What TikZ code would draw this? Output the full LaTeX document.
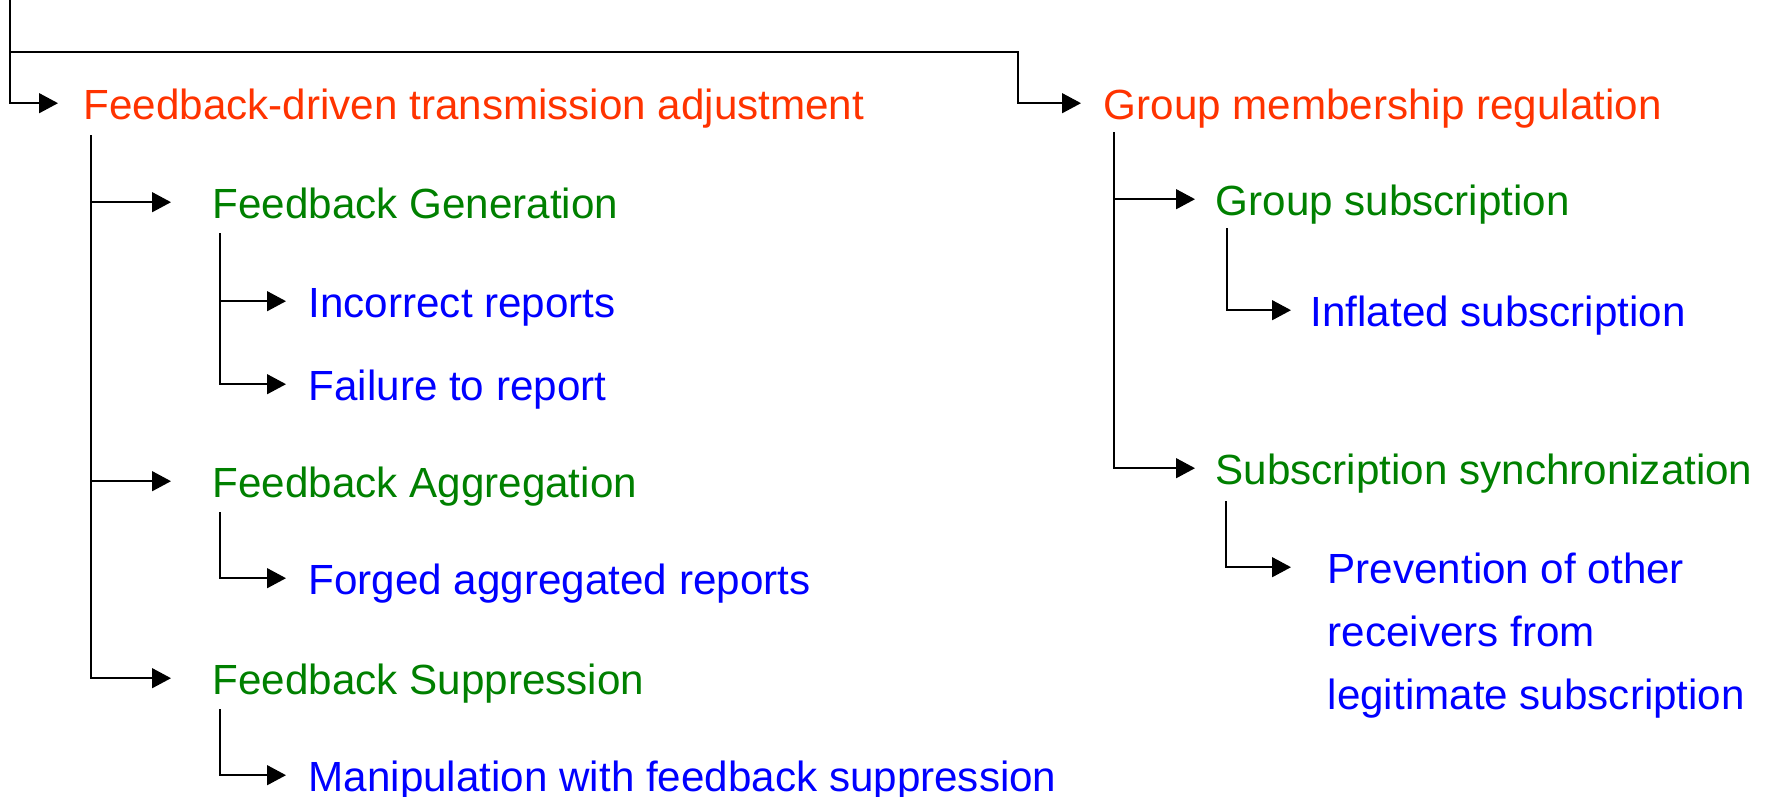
\documentclass[tikz,border=0pt]{standalone}
\usepackage{fontspec}
\setmainfont{Liberation Sans}
\usetikzlibrary{arrows.meta}
\definecolor{goalred}{RGB}{255,51,0}
\definecolor{mechgreen}{RGB}{0,128,0}
\definecolor{attackblue}{RGB}{0,0,255}
\tikzset{
  entry/.style = {anchor = base west, inner xsep = 0pt, text height = 1.1em, text depth = 0.2em},
  goal/.style = {entry, text = goalred},
  mech/.style = {entry, text = mechgreen},
  attack/.style = {entry, text = attackblue},
  link/.style = {-{Triangle[length = 0.19cm, width = 0.2cm]}, shorten > = 0.22cm},
  longlink/.style = {link, shorten > = 0.41cm}
}
\begin{document}
\begin{tikzpicture} [font = \fontsize{12}{18}\selectfont, line width = 0.4pt]
\useasboundingbox (0,0) rectangle (17.72,-7.96);
% regulation goals
\node [goal] (fda) at (0.83,-1.19) {Feedback-driven transmission adjustment};
\node [goal] (gmr) at (11.03,-1.19) {Group membership regulation};
% mechanisms
\node [mech] (fg) at (2.12,-2.18) {Feedback Generation};
\node [mech] (fa) at (2.12,-4.97) {Feedback Aggregation};
\node [mech] (fs) at (2.12,-6.94) {Feedback Suppression};
\node [mech] (gs) at (12.15,-2.15) {Group subscription};
\node [mech] (ss) at (12.15,-4.84) {Subscription synchronization};
% attacks
\node [attack] (ir) at (3.08,-3.17) {Incorrect reports};
\node [attack] (ftr) at (3.08,-4.00) {Failure to report};
\node [attack] (far) at (3.08,-5.94) {Forged aggregated reports};
\node [attack] (mfs) at (3.08,-7.91) {Manipulation with feedback suppression};
\node [attack] (is) at (13.10,-3.26) {Inflated subscription};
\node [attack] (prev) at (13.27,-5.83) {\vtop{\hbox{Prevention of other}\hbox{receivers from}\hbox{legitimate subscription}}};
% top level lines
\coordinate (root) at (0.10,0);
\coordinate (split) at (0.10,-0.52);
\coordinate (bend) at (10.18,-0.52);
\draw [link, shorten > = 0.25cm] (root) |- (fda);
\draw [link] (split) -- (bend) |- (gmr);
% stems below each entry
\coordinate (fda stem) at ([shift = {(0.08,-0.16)}]fda.base west);
\coordinate (fg stem) at ([shift = {(0.08,-0.15)}]fg.base west);
\coordinate (fa stem) at ([shift = {(0.08,-0.15)}]fa.base west);
\coordinate (fs stem) at ([shift = {(0.08,-0.15)}]fs.base west);
\coordinate (gmr stem) at ([shift = {(0.11,-0.13)}]gmr.base west);
\coordinate (gs stem) at ([shift = {(0.12,-0.13)}]gs.base west);
\coordinate (ss stem) at ([shift = {(0.11,-0.17)}]ss.base west);
\draw [longlink] (fda stem) |- (fg);
\draw [longlink] (fda stem) |- (fa);
\draw [longlink] (fda stem) |- (fs);
\draw [link] (fg stem) |- (ir);
\draw [link] (fg stem) |- (ftr);
\draw [link] (fa stem) |- (far);
\draw [link] (fs stem) |- (mfs);
\draw [link, shorten > = 0.2cm] (gmr stem) |- (gs);
\draw [link, shorten > = 0.2cm] (gmr stem) |- (ss);
\draw [link, shorten > = 0.19cm] (gs stem) |- (is);
\draw [link, shorten > = 0.36cm] (ss stem) |- (prev);
\end{tikzpicture}
\end{document}
